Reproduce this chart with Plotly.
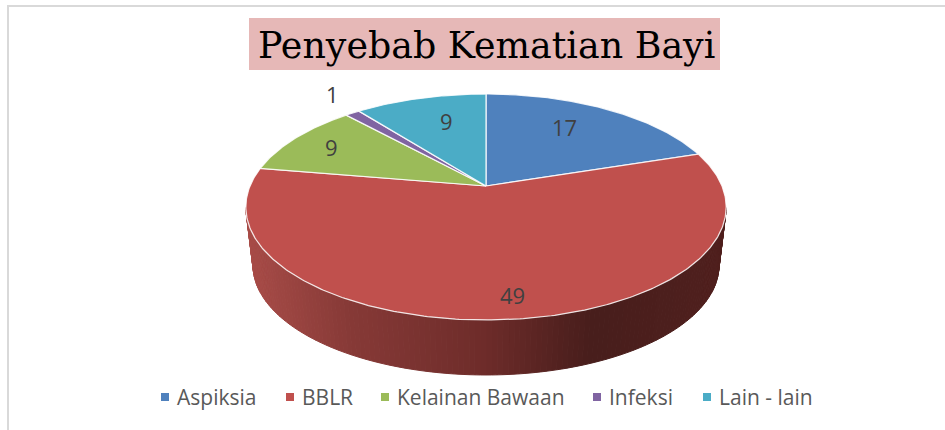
import numpy as np
import plotly.graph_objects as go

categories = ["Aspiksia", "BBLR", "Kelainan Bawaan", "Infeksi", "Lain - lain"]
values = [17, 49, 9, 1, 9]
colors = ["#4f81bd", "#c0504d", "#9bbb59", "#8064a2", "#4bacc6"]
title_text = "Penyebab Kematian Bayi"

# Layout constants (page pixels)
W, H = 945, 430
CX, CY = 486, 186
R, A, B = 236, 109.1, 0.1858   # perspective projection of the pie disc
DEPTH, SHRINK = 59, 0.97       # lower rim of the pie wall
WALL_STOPS_X = [250, 350, 486, 590, 720]
WALL_STOPS_RGB = [(168, 76, 72), (135, 58, 55), (110, 44, 42), (72, 30, 28), (80, 32, 30)]
LABEL_X = [564, 512, 331, 332, 446]
LABEL_Y = [127, 295, 147, 94, 121]
LEG_MARK_X = [165, 290, 385, 597, 707]
LEG_TEXT_X = [175, 300, 395, 607, 717]
LEG_Y = 397
TEXT_FONT = "Open Sans"


def project(theta, lower=False):
    u, v = np.sin(theta), np.cos(theta)
    d = 1 + B * v
    x, y = R * u / d, -A * v / d
    if lower:
        return CX + SHRINK * x, CY + DEPTH + SHRINK * y
    return CX + x, CY + y


fig = go.Figure()

# Wall of the pie, shaded strip by strip
edges = np.radians(np.linspace(101, 259, 141))
for a0, a1 in zip(edges[:-1], edges[1:]):
    tx, ty = project(np.array([a0, a1]))
    bx, by = project(np.array([a1, a0]), lower=True)
    xm = (tx.mean() + bx.mean()) / 2
    rgb = [int(np.interp(xm, WALL_STOPS_X, [s[i] for s in WALL_STOPS_RGB])) for i in range(3)]
    col = f"rgb({rgb[0]},{rgb[1]},{rgb[2]})"
    fig.add_trace(go.Scatter(
        x=list(tx) + list(bx) + [tx[0]], y=list(ty) + list(by) + [ty[0]],
        mode="lines", fill="toself", fillcolor=col, line=dict(color=col, width=1),
        hoverinfo="skip", showlegend=False))

# Top slices
total = sum(values)
start = 0.0
for name, val, col in zip(categories, values, colors):
    sweep = val / total * 2 * np.pi
    th = np.linspace(start, start + sweep, max(4, int(val * 6)))
    px, py = project(th)
    fig.add_trace(go.Scatter(
        x=[CX] + list(px) + [CX], y=[CY] + list(py) + [CY],
        mode="lines", fill="toself", fillcolor=col,
        line=dict(color="rgba(255,255,255,0.85)", width=1.25),
        name=name, text=f"{name}: {val}", hoverinfo="text", showlegend=False))
    start += sweep

# Legend markers
fig.add_trace(go.Scatter(
    x=LEG_MARK_X, y=[LEG_Y] * len(categories), mode="markers",
    marker=dict(symbol="square", size=8, color=colors, line=dict(width=0)),
    hoverinfo="skip", showlegend=False))

annotations = []
for x, y, v in zip(LABEL_X, LABEL_Y, values):
    annotations.append(dict(x=x, y=y, text=str(v), showarrow=False, xref="x", yref="y",
                            font=dict(family=TEXT_FONT, size=22, color="#404040")))
for x, name in zip(LEG_TEXT_X, categories):
    annotations.append(dict(x=x, y=LEG_Y, text=name, showarrow=False, xref="x", yref="y",
                            xanchor="left", font=dict(family=TEXT_FONT, size=21, color="#595959")))
annotations.append(dict(x=486.5, y=45, text=title_text, showarrow=False, xref="x", yref="y",
                        font=dict(family="DejaVu Serif", size=36.4, color="#000000")))

shapes = [
    dict(type="rect", xref="x", yref="y", x0=249, x1=720, y0=18, y1=70,
         fillcolor="#e6b8b7", line=dict(width=0), layer="below"),
    dict(type="line", xref="x", yref="y", x0=7, x1=945, y0=6, y1=6,
         line=dict(color="#d9d9d9", width=2), layer="below"),
    dict(type="line", xref="x", yref="y", x0=8, x1=8, y0=5, y1=430,
         line=dict(color="#d9d9d9", width=2), layer="below"),
]

fig.update_layout(
    width=W, height=H, margin=dict(l=0, r=0, t=0, b=0),
    paper_bgcolor="white", plot_bgcolor="white", showlegend=False,
    xaxis=dict(range=[0, W], visible=False, fixedrange=True),
    yaxis=dict(range=[H, 0], visible=False, fixedrange=True),
    shapes=shapes, annotations=annotations,
)
fig.write_html(
    "out.html",
    config=dict(displayModeBar=False),
    post_script="document.body.style.margin='0';document.documentElement.style.overflow='hidden';",
)
